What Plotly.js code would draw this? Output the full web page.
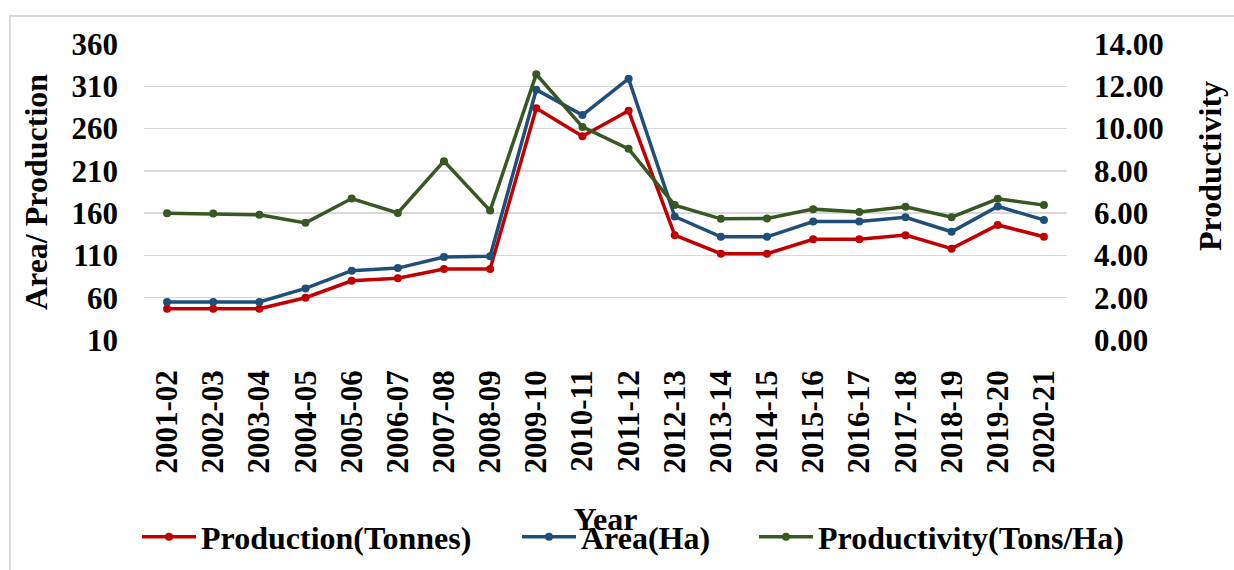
<!DOCTYPE html>
<html>
<head>
<meta charset="utf-8">
<script src="https://cdn.plot.ly/plotly-3.0.1.min.js"></script>
<style>
html,body{margin:0;padding:0;background:#fff;}
#chart{width:1234px;height:570px;}
</style>
</head>
<body>
<div id="chart"></div>
<script>
const years = ["2001-02","2002-03","2003-04","2004-05","2005-06","2006-07","2007-08","2008-09","2009-10","2010-11","2011-12","2012-13","2013-14","2014-15","2015-16","2016-17","2017-18","2018-19","2019-20","2020-21"];
const production = [47,47,47,60,80,83,94,94,284,251,281,134,112,112,129,129,134,118,146,132];
const area = [55,55,55,71,92,95,108,109,306,276,319,156,132,132,150,150,155,138,168,152];
const productivity = [6.00,5.98,5.92,5.54,6.69,6.01,8.46,6.12,12.57,10.08,9.04,6.38,5.73,5.75,6.19,6.05,6.30,5.81,6.68,6.38];
const leftTicks = [10,60,110,160,210,260,310,360];
const rightTicks = [0,2,4,6,8,10,12,14];

const FONT = "Liberation Serif, Times New Roman, serif";
const fs = 31;
const lfs = 32;

function bold(s){ return "<b>" + s + "</b>"; }

const traces = [
  {x: years, y: production, name: bold("Production(Tonnes)"), type: "scatter", mode: "lines+markers",
   line: {color: "#C00000", width: 3.5}, marker: {color: "#C00000", size: 8}, yaxis: "y", legend: "legend"},
  {x: years, y: area, name: bold("Area(Ha)"), type: "scatter", mode: "lines+markers",
   line: {color: "#1F4E79", width: 3.5}, marker: {color: "#1F4E79", size: 8}, yaxis: "y", legend: "legend2"},
  {x: years, y: productivity, name: bold("Productivity(Tons/Ha)"), type: "scatter", mode: "lines+markers",
   line: {color: "#385723", width: 3.5}, marker: {color: "#385723", size: 8}, yaxis: "y2", legend: "legend3"}
];

const legY = (340 - 537) / 296;
function leg(px){
  return {orientation: "h", x: (px - 144) / 923, xanchor: "left", y: legY, yanchor: "middle",
          font: {family: FONT, size: lfs, color: "#000"}, itemwidth: 54, bgcolor: "rgba(0,0,0,0)"};
}

const layout = {
  width: 1234, height: 570,
  margin: {l: 144, r: 167, t: 44, b: 230, autoexpand: false},
  paper_bgcolor: "#fff", plot_bgcolor: "#fff",
  font: {family: FONT, size: fs, color: "#000"},
  showlegend: true,
  legend: leg(137),
  legend2: leg(517),
  legend3: leg(754),
  xaxis: {
    type: "category", range: [-0.5, 19.5], tickangle: -90,
    tickvals: years, ticktext: years.map(bold),
    showgrid: false, zeroline: false, showline: false, ticks: "",
    ticklabelstandoff: 23,
    tickfont: {family: FONT, size: fs, color: "#000"},
    title: {text: bold("Year"), font: {family: FONT, size: lfs, color: "#000"}, standoff: 35},
    automargin: false
  },
  yaxis: {
    range: [10, 360], tickvals: leftTicks, ticktext: leftTicks.map(v => bold(String(v))),
    showgrid: true, gridcolor: "#D9D9D9", gridwidth: 1.5, zeroline: false, showline: false, ticks: "",
    ticklabelstandoff: 25,
    tickfont: {family: FONT, size: fs, color: "#000"},
    title: {text: bold("Area/ Production"), font: {family: FONT, size: lfs, color: "#000"}, standoff: 14},
    automargin: false
  },
  yaxis2: {
    overlaying: "y", side: "right", range: [0, 14], tickvals: rightTicks,
    ticktext: rightTicks.map(v => bold(v.toFixed(2))),
    showgrid: false, zeroline: false, showline: false, ticks: "",
    ticklabelstandoff: 26,
    tickfont: {family: FONT, size: fs, color: "#000"},
    automargin: false
  },
  annotations: [
    {text: bold("Productivity"), textangle: -90, xref: "paper", yref: "paper",
     x: (1210 - 144) / 923, y: (340 - 166) / 296, xanchor: "center", yanchor: "middle",
     showarrow: false, font: {family: FONT, size: lfs, color: "#000"}}
  ],
  shapes: [
    {type: "rect", xref: "paper", yref: "paper", layer: "below",
     x0: (10 - 144) / 923, x1: 1.5, y0: -2, y1: (340 - 16) / 296,
     line: {color: "#D9D9D9", width: 2}, fillcolor: "rgba(0,0,0,0)"}
  ]
};

Plotly.newPlot("chart", traces, layout, {displayModeBar: false, staticPlot: true});
</script>
</body>
</html>
